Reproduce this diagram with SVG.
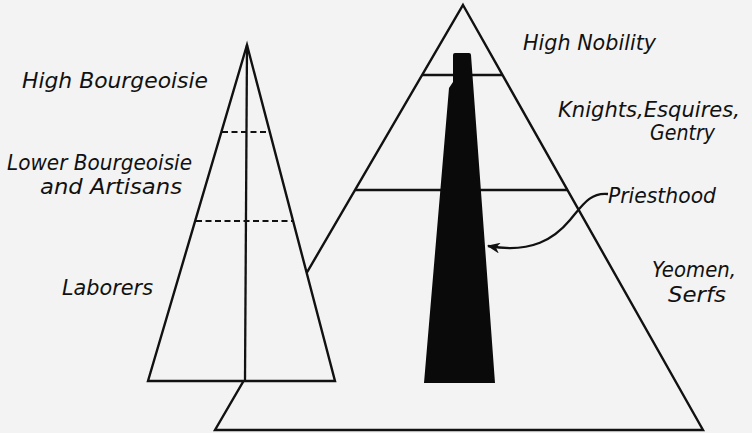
<svg xmlns="http://www.w3.org/2000/svg" width="752" height="433" viewBox="0 0 752 433">
<defs>
<style>
.ln{fill:none;stroke:#111;stroke-width:2.3;stroke-linejoin:miter}
.tri{fill:#f3f3f3;stroke:#111;stroke-width:2.4;stroke-linejoin:miter}
.dash{fill:none;stroke:#111;stroke-width:2.2;stroke-dasharray:6 3.5}
.lbl{font-family:"DejaVu Sans","Liberation Sans",sans-serif;font-style:oblique;font-size:21px;fill:#111}
</style>
<marker id="ah" viewBox="0 0 12 10" refX="11" refY="5" markerWidth="13" markerHeight="11" markerUnits="userSpaceOnUse" orient="auto">
<path d="M12,5 L0,0 L3.5,5 L0,10 Z" fill="#111"/>
</marker>
</defs>
<rect width="752" height="433" fill="#f3f3f3"/>
<g id="feudal-pyramid">
<polygon class="tri" points="463,5 703,430 215,430"/>
<line class="ln" x1="422" y1="75" x2="502" y2="75"/>
<line class="ln" x1="355" y1="190" x2="568" y2="190"/>
<path id="priesthood-bar" d="M455,53 L469,53 Q471,53 471,55 L495,383 L424,383 L449,88 L453,82 L453,55 Q453,53 455,53 Z" fill="#0a0a0a"/>
</g>
<g id="bourgeois-pyramid">
<polygon class="tri" points="247,45 335,381 148,381"/>
<line class="ln" x1="247" y1="45" x2="245" y2="381"/>
<line class="dash" x1="222" y1="132" x2="270" y2="132"/>
<line class="dash" x1="196" y1="221" x2="293" y2="221"/>
</g>
<g id="connectors">
<path class="ln" d="M608,194 C590,192 582,206 570,220 C555,238 532,254 488,246" marker-end="url(#ah)"/>
</g>
<g id="labels-left">
<text class="lbl" x="22" y="88" textLength="186" lengthAdjust="spacingAndGlyphs">High Bourgeoisie</text>
<text class="lbl" x="7" y="170" textLength="185" lengthAdjust="spacingAndGlyphs">Lower Bourgeoisie</text>
<text class="lbl" x="40" y="194" textLength="142" lengthAdjust="spacingAndGlyphs">and Artisans</text>
<text class="lbl" x="62" y="295" textLength="91" lengthAdjust="spacingAndGlyphs">Laborers</text>
</g>
<g id="labels-right">
<text class="lbl" x="523" y="50" textLength="133" lengthAdjust="spacingAndGlyphs">High Nobility</text>
<text class="lbl" x="558" y="117" textLength="182" lengthAdjust="spacingAndGlyphs">Knights,Esquires,</text>
<text class="lbl" x="650" y="140" textLength="65" lengthAdjust="spacingAndGlyphs">Gentry</text>
<text class="lbl" x="608" y="203" textLength="108" lengthAdjust="spacingAndGlyphs">Priesthood</text>
<text class="lbl" x="652" y="277" textLength="84" lengthAdjust="spacingAndGlyphs">Yeomen,</text>
<text class="lbl" x="668" y="302" textLength="58" lengthAdjust="spacingAndGlyphs">Serfs</text>
</g>
</svg>
